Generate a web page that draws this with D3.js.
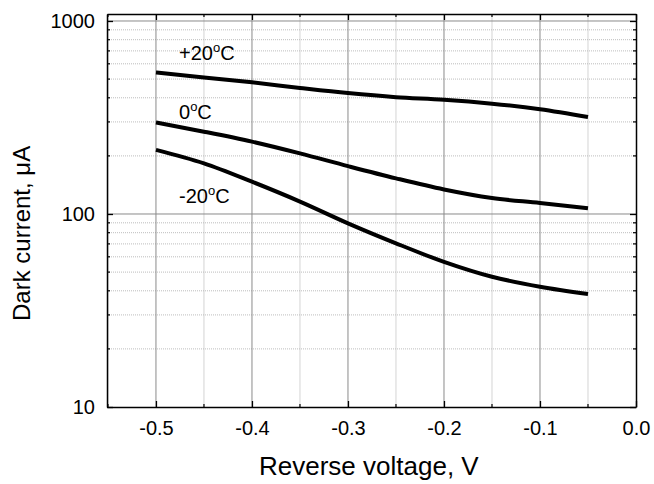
<!DOCTYPE html>
<html>
<head>
<meta charset="utf-8">
<script src="https://cdn.jsdelivr.net/npm/d3@7"></script>
<style>
  body { margin: 0; background: #fff; }
  text { font-family: "Liberation Sans", Arial, sans-serif; fill: #000; }
</style>
</head>
<body>
<svg id="chart" width="654" height="484"></svg>
<script>
// voltage points (V)
const voltage = [-0.5, -0.45, -0.4, -0.35, -0.3, -0.25, -0.2, -0.15, -0.1, -0.05];
// dark current (uA) for each temperature
const plus20 = [541, 510, 481, 450, 423, 403, 391, 373, 349, 318];
const zero = [298, 267, 237, 206, 177, 153, 134, 121, 114, 107];
const minus20 = [215, 183, 147, 116, 89.5, 70.5, 56.5, 47.3, 42, 38.5];
const seriesNames = ["+20", "0", "-20"];
const xTicks = [-0.5, -0.4, -0.3, -0.2, -0.1, 0.0];
const yTicks = [10, 100, 1000];

const margin = { top: 14, right: 18, bottom: 77, left: 107 };
const svg = d3.select("#chart");
const width = +svg.attr("width") - margin.left - margin.right;
const height = +svg.attr("height") - margin.top - margin.bottom;

const x = d3.scaleLinear().domain([-0.551, 0]).range([0, width]);
const y = d3.scaleLog().domain([10, 1087]).range([height, 0]);

const g = svg.append("g").attr("transform", `translate(${margin.left},${margin.top})`);

// minor tick values
const xMinor = d3.range(-0.55, 0.001, 0.05).map(d => +d.toFixed(2)).filter(d => !xTicks.some(t => Math.abs(t - d) < 1e-6));
let yMinor = [];
[10, 100].forEach(dec => { for (let k = 2; k <= 9; k++) yMinor.push(dec * k); });

// grid lines
g.selectAll(".xminor").data(xMinor).enter().append("line")
  .attr("x1", d => x(d)).attr("x2", d => x(d))
  .attr("y1", 0).attr("y2", height)
  .attr("stroke", "#d4d4d4").attr("stroke-width", 1);
g.selectAll(".yminor").data(yMinor).enter().append("line")
  .attr("x1", 0).attr("x2", width)
  .attr("y1", d => y(d)).attr("y2", d => y(d))
  .attr("stroke", "#bdbdbd").attr("stroke-width", 1)
  .attr("stroke-dasharray", "1,1");
g.selectAll(".xmajor").data(xTicks.slice(0, -1)).enter().append("line")
  .attr("x1", d => x(d)).attr("x2", d => x(d))
  .attr("y1", 0).attr("y2", height)
  .attr("stroke", "#8a8a8a").attr("stroke-width", 1);
g.selectAll(".ymajor").data([100, 1000]).enter().append("line")
  .attr("x1", 0).attr("x2", width)
  .attr("y1", d => y(d)).attr("y2", d => y(d))
  .attr("stroke", "#8a8a8a").attr("stroke-width", 1);

// axes with inward ticks (plain hyphen for negative numbers)
const fmtX = d => d3.format(".1f")(d).replace("\u2212", "-");
const xAxis = d3.axisBottom(x).tickValues(xTicks).tickFormat(fmtX).tickSizeInner(-6).tickSizeOuter(0).tickPadding(14);
const xAxisTop = d3.axisTop(x).tickValues(xTicks).tickFormat("").tickSizeInner(-6).tickSizeOuter(0);
const yAxis = d3.axisLeft(y).tickValues(yTicks).tickFormat(d3.format("d")).tickSizeInner(-6).tickSizeOuter(0).tickPadding(12);
const yAxisRight = d3.axisRight(y).tickValues(yTicks).tickFormat("").tickSizeInner(-6).tickSizeOuter(0);

function styleAxis(sel) {
  sel.select(".domain").attr("stroke", "#000").attr("stroke-width", 1.5);
  sel.selectAll(".tick line").attr("stroke", "#000").attr("stroke-width", 1.3);
  sel.selectAll("text").attr("font-size", 20).attr("font-family", "Liberation Sans, Arial, sans-serif");
}

g.append("g").attr("transform", `translate(0,${height})`).call(xAxis).call(styleAxis);
g.append("g").call(xAxisTop).call(styleAxis);
g.append("g").call(yAxis).call(styleAxis);
g.append("g").attr("transform", `translate(${width},0)`).call(yAxisRight).call(styleAxis);

// minor ticks
const minorTicks = g.append("g").attr("stroke", "#000").attr("stroke-width", 1.2);
xMinor.forEach(d => {
  minorTicks.append("line").attr("x1", x(d)).attr("x2", x(d)).attr("y1", height).attr("y2", height - 3);
  minorTicks.append("line").attr("x1", x(d)).attr("x2", x(d)).attr("y1", 0).attr("y2", 3);
});
yMinor.forEach(d => {
  minorTicks.append("line").attr("x1", 0).attr("x2", 3).attr("y1", y(d)).attr("y2", y(d));
  minorTicks.append("line").attr("x1", width).attr("x2", width - 3).attr("y1", y(d)).attr("y2", y(d));
});

// curves
const line = d3.line()
  .x((d, i) => x(voltage[i]))
  .y(d => y(d))
  .curve(d3.curveMonotoneX);

[plus20, zero, minus20].forEach(vals => {
  g.append("path")
    .datum(vals)
    .attr("fill", "none")
    .attr("stroke", "#000")
    .attr("stroke-width", 4)
    .attr("d", line);
});

// curve labels
const labelPos = [[-0.476, 46], [-0.476, 105], [-0.476, 189]];
seriesNames.forEach((name, i) => {
  const t = g.append("text")
    .attr("x", x(labelPos[i][0]))
    .attr("y", labelPos[i][1])
    .attr("font-size", 20);
  t.append("tspan").text(name);
  t.append("tspan").attr("dy", -8).attr("font-size", 13).text("o");
  t.append("tspan").attr("dy", 8).text("C");
});

// axis titles
svg.append("text")
  .attr("x", 259)
  .attr("y", 475)
  .attr("font-size", 26)
  .text("Reverse voltage, V");

svg.append("text")
  .attr("transform", `translate(30,${321}) rotate(-90)`)
  .attr("font-size", 24)
  .text("Dark current, \u03bcA");
</script>
</body>
</html>
